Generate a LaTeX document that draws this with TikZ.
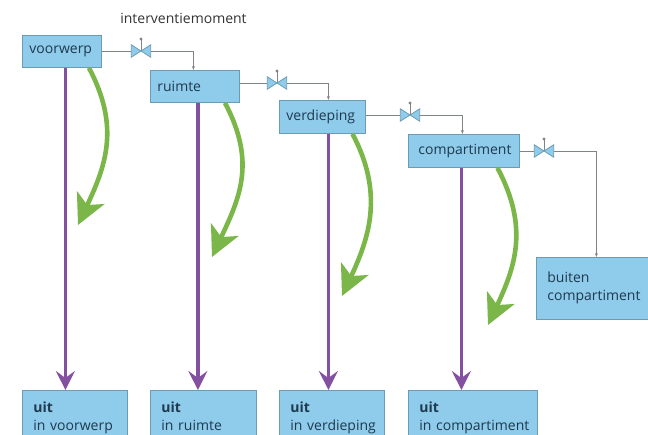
\documentclass[tikz,border=0pt]{standalone}
\usepackage{fontspec}
\setmainfont{Open Sans}
\usetikzlibrary{arrows.meta}
\definecolor{vakblauw}{HTML}{8FCBEA}
\definecolor{vakrand}{HTML}{6A9DB3}
\definecolor{vaktekst}{HTML}{1E3A4F}
\definecolor{paars}{HTML}{8450A0}
\definecolor{groen}{HTML}{7AB648}
\definecolor{leiding}{HTML}{7F8487}
\begin{document}
\begin{tikzpicture}[
        x=1pt, y=-1pt,
        every node/.style={font=\fontsize{14}{18}\selectfont, text=vaktekst},
        vak/.style={draw=vakrand, fill=vakblauw, thick, anchor=north west, align=left, inner xsep=7pt, inner ysep=0pt},
        klep/.style={minimum width=19pt, minimum height=12pt, inner sep=0pt},
        klepvorm/.style={draw=vakrand, fill=vakblauw, thick},
        leiding_kaal/.style={draw=leiding, thick},
        leiding_lijn/.style={draw=leiding, thick, -{Stealth[length=4pt, width=3pt]}},
        uitstroom/.style={draw=paars, line width=3.6pt, -{Stealth[length=19pt, width=19pt, inset=7pt]}},
        overslag/.style={draw=groen, line width=4.6pt, -{Stealth[length=30pt, width=30pt, inset=8pt]}}
        ]
    \useasboundingbox (0,0) rectangle (648,435);
    \node[text=black!80] (kop) at (183.5,18) {interventiemoment};
    % bovenste rij
    \node[vak, text width=65pt, minimum height=32pt] (voorwerp) at (22,35) {voorwerp};
    \node[vak, text width=75pt, minimum height=32pt] (ruimte) at (150,70) {ruimte};
    \node[vak, text width=72pt, minimum height=33pt] (verdieping) at (279,100) {verdieping};
    \node[vak, text width=97pt, minimum height=33pt] (compartiment) at (408,134) {\hspace{3pt}compartiment};
    \node[vak, text width=100pt, minimum height=62pt, inner xsep=6pt] (buiten) at (536,257) {\hspace{5pt}\strut buiten\\\hspace{5pt}\strut compartiment};
    % onderste rij
    \node[vak, text width=91pt, minimum height=56pt] (uitvoorwerp) at (22,390) {\hspace{4pt}\strut\textbf{uit}\\\hspace{4pt}\strut in voorwerp};
    \node[vak, text width=92pt, minimum height=56pt] (uitruimte) at (150,390) {\hspace{4pt}\strut\textbf{uit}\\\hspace{4pt}\strut in ruimte};
    \node[vak, text width=91pt, minimum height=56pt] (uitverdieping) at (279,390) {\hspace{4pt}\strut\textbf{uit}\\\hspace{4pt}\strut in verdieping};
    \node[vak, text width=115pt, minimum height=56pt] (uitcompartiment) at (408,390) {\hspace{4pt}\strut\textbf{uit}\\\hspace{4pt}\strut in compartiment};
    % kleppen
    \node[klep] (klep1) at (141,51) {};
    \node[klep] (klep2) at (277,83) {};
    \node[klep] (klep3) at (410,115) {};
    \node[klep] (klep4) at (544,151) {};
    \foreach \k in {klep1,klep2,klep3,klep4} {
        \draw[leiding_kaal] (\k.center) -- ++(0,-12);
        \fill[leiding] (\k.center) ++(0,-12) circle (1.6pt);
        \draw[klepvorm] (\k.north west) -- (\k.south east) -- (\k.north east) -- (\k.south west) -- cycle;
    }
    % leidingen
    \draw[leiding_kaal] (voorwerp.east |- klep1) -- (klep1);
    \draw[leiding_kaal] (ruimte.east |- klep2) -- (klep2);
    \draw[leiding_kaal] (verdieping.east |- klep3) -- (klep3);
    \draw[leiding_kaal] (compartiment.east |- klep4) -- (klep4);
    \draw[leiding_lijn] (klep1) -| ([xshift=-1.5pt]ruimte.north);
    \draw[leiding_lijn] (klep2) -| ([xshift=6pt]verdieping.north);
    \draw[leiding_lijn] (klep3) -| ([xshift=-1.5pt]compartiment.north);
    \draw[leiding_lijn] (klep4) -| ([xshift=4pt]buiten.north);
    % paarse pijlen
    \foreach \van/\naar/\a/\b in {voorwerp/uitvoorwerp/3.5/-9.5, ruimte/uitruimte/3/-5.5, verdieping/uitverdieping/6/-3.5, compartiment/uitcompartiment/-2.5/-11.5}
        \draw[uitstroom] ([xshift=\a pt]\van.south) -- ([xshift=\b pt]\naar.north);
    % groene pijlen
    \coordinate (punt1) at (78,225);
    \coordinate (punt2) at (212,257);
    \coordinate (punt3) at (342,296);
    \coordinate (punt4) at (488,325);
    \foreach \van/\c/\p in {voorwerp/27/punt1, ruimte/30/punt2, verdieping/30/punt3, compartiment/33.5/punt4}
        \draw[overslag] ([xshift=\c pt]\van.south) .. controls +(32,60) and +(27,-58) .. (\p);
\end{tikzpicture}
\end{document}
